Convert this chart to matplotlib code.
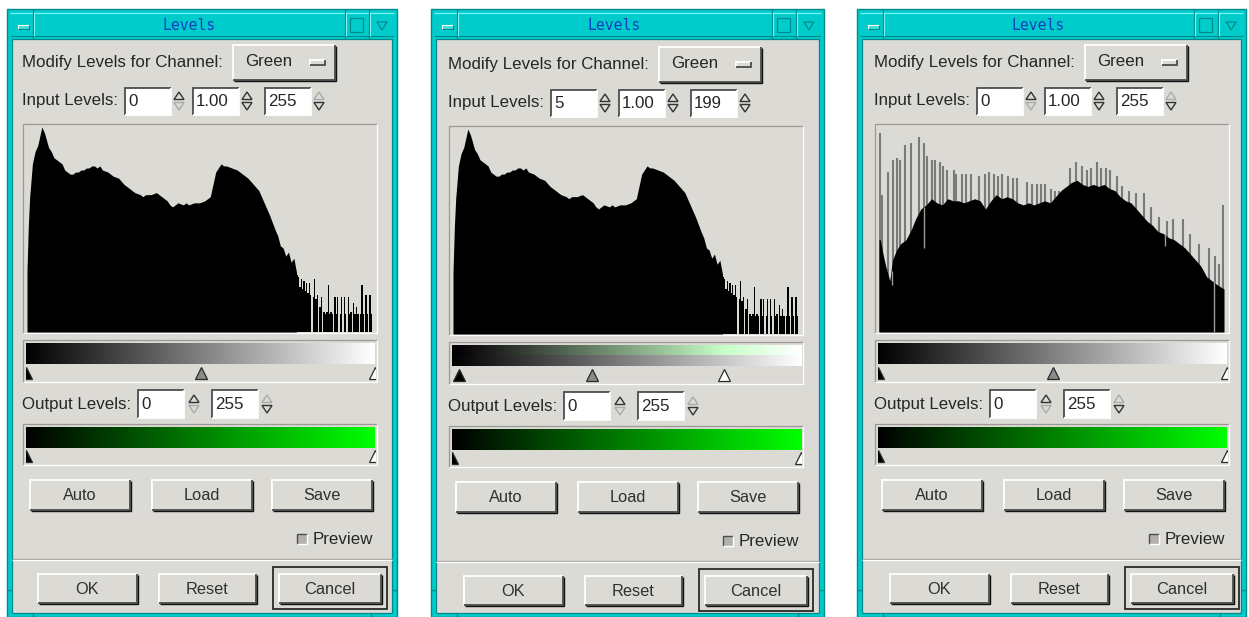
import matplotlib
matplotlib.use("Agg")
import matplotlib.pyplot as plt
from matplotlib.patches import Rectangle, Polygon
import numpy as np

W, H = 1249, 617

# dialog settings, one entry per screenshot
channel = ["Green", "Green", "Green"]
input_low = [0, 5, 0]
input_gamma = [1.00, 1.00, 1.00]
input_high = [255, 199, 255]
output_low = [0, 0, 0]
output_high = [255, 255, 255]

# histogram of the source image (dialogs 1 and 2), % of highest bin
src_levels = [0, 1, 2, 4, 6, 8, 10, 11, 13, 16, 18, 20, 22, 24, 26, 28, 30, 32, 34, 36,
              38, 40, 42, 44, 46, 48, 50, 52, 54, 56, 60, 64, 68, 72, 76, 80, 84, 86, 88,
              92, 96, 98, 100, 104, 106, 108, 112, 116, 118, 120, 124, 128, 132, 136, 138,
              140, 142, 144, 146, 148, 152, 156, 160, 164, 168, 172, 176, 180, 184, 186,
              188, 190, 192, 194, 196, 198, 200]
src_counts = [30, 52, 66, 82, 88, 91, 97, 100, 97, 90, 88, 85, 84, 83, 82, 79, 78, 77, 77, 78,
              78, 79, 79, 80, 80, 81, 81, 80, 81, 79, 78, 76, 75, 72, 70, 68, 67, 66, 67,
              67, 68, 67, 66, 64, 62, 61, 63, 62, 63, 62, 63, 63, 64, 66, 72,
              78, 80, 82, 81, 81, 80, 79, 77, 75, 72, 69, 63, 57, 50, 47,
              42, 41, 37, 39, 34, 36, 29]
# sparse highlights, one value per level from 200 to 255
src_tail_levels = list(range(200, 256))
src_tail_counts = [28, 27, 22, 26, 21, 25, 20, 24, 19, 24,
                   18, 0, 17, 26, 16, 18, 0, 12, 17, 0,
                   10, 9, 10, 23, 9, 10, 9, 0, 17, 9,
                   17, 0, 9, 17, 0, 17, 9, 0, 17, 9,
                   10, 0, 14, 9, 12, 9, 0, 9, 23, 9,
                   0, 18, 9, 0, 18, 9]

# histogram after the levels change (dialog 3)
adj_levels = [0, 1, 3, 5, 8, 10, 13, 16, 20, 24, 27, 31, 35, 39, 43, 47, 51, 55, 59, 63,
              67, 71, 75, 79, 83, 87, 91, 95, 99, 103, 107, 111, 115, 119, 123, 127, 131, 135,
              139, 143, 147, 151, 155, 159, 163, 167, 171, 175, 179, 183, 187, 191, 195, 199,
              203, 207, 211, 215, 219, 223, 227, 231, 235, 239, 243, 247, 251, 256]
adj_counts = [45, 45, 38, 32, 25, 35, 40, 43, 45, 50, 55, 60, 62, 65, 63, 62, 65, 64, 64, 63,
              64, 65, 64, 60, 64, 67, 65, 66, 65, 63, 62, 63, 62, 63, 64, 63, 66, 69,
              71, 73, 74, 72, 71, 72, 71, 72, 70, 69, 66, 64, 63, 60, 57, 54,
              52, 49, 48, 46, 45, 43, 41, 38, 35, 32, 27, 25, 23, 21]
adj_spike_levels = [0, 2, 6, 10, 13, 15, 19, 23, 29, 33, 35, 39, 41, 45, 47, 50, 55, 57, 61, 64,
                    68, 74, 78, 81, 85, 88, 91, 95, 99, 102, 109, 113, 117, 120, 123, 127, 130,
                    133, 141, 146, 150, 154, 157, 161, 164, 168, 171, 176, 180, 185, 190, 196,
                    201, 207, 213, 218, 225, 230, 237, 244, 249, 252, 255]
adj_spike_counts = [97, 67, 78, 84, 85, 84, 91, 92, 95, 92, 86, 84, 84, 83, 81, 79, 79, 77, 77, 77,
                    77, 76, 77, 78, 77, 76, 77, 76, 75, 75, 73, 72, 72, 72, 72, 70, 69,
                    69, 80, 83, 81, 79, 80, 83, 80, 80, 79, 76, 71, 69, 68, 68,
                    61, 56, 54, 55, 55, 48, 43, 41, 37, 33, 62]
adj_gap_levels = [9, 33, 212, 248]
adj_gap_lo = [23, 41, 42, 0]
adj_gap_hi = [30, 61, 48, 25]

BG = "#dcdad5"
CYAN = "#00cccc"
CYAN_DK = "#008a8a"
CYAN_LT = "#80f4f4"
TXT = "#262626"
SHADOW = "#4d4d4d"
FONT = "Liberation Sans"

panel_left = [7, 431, 857]
panel_width = [390, 393, 389]
content_dx = [0, 426, 852]
content_dy = [0, 2, 0]


def fig_rect(x, y, w, h):
    return [x / W, 1 - (y + h) / H, w / W, h / H]


def line(ax, xs, ys, color, lw=1.0, z=3):
    ax.plot(xs, ys, color=color, lw=lw, zorder=z, solid_capstyle="butt", solid_joinstyle="miter")


def bevel(ax, x, y, w, h, raised=True, fc=BG, z=2, lw=1.3, dark=SHADOW):
    ax.add_patch(Rectangle((x, y), w, h, facecolor=fc, edgecolor="none", zorder=z))
    hi, lo = ("white", dark) if raised else (dark, "white")
    line(ax, [x, x, x + w], [y + h, y, y], hi, lw, z + 0.1)
    line(ax, [x, x + w, x + w], [y + h, y + h, y], lo, lw, z + 0.1)


def label(ax, x, y, s, ha="left", size=12.2, color=TXT):
    ax.text(x, y, s, ha=ha, va="center", fontsize=size, family=FONT, color=color, zorder=5)


def button(ax, x, y, w, h, s):
    bevel(ax, x, y, w, h)
    line(ax, [x + 1, x + w + 1, x + w + 1], [y + h + 1, y + h + 1, y + 1], "#111111", 1.0, 2.2)
    label(ax, x + w / 2, y + h / 2 + 0.5, s, ha="center", size=11.8, color="#303030")


def entry(ax, x, y, w, h, s):
    bevel(ax, x, y, w, h, raised=False, fc="white")
    label(ax, x + 3, y + h / 2 + 0.5, s)


def spinner(ax, cx, cy, up_on, down_on):
    for sign, on in ((-1, up_on), (1, down_on)):
        base, tip = cy + sign * 1.5, cy + sign * 9
        pts = [(cx - 5, base), (cx + 5, base), (cx, tip)]
        ax.add_patch(Polygon(pts, closed=True, facecolor=BG,
                             edgecolor="#333333" if on else "#ababab", lw=1.0, zorder=4))


def level_bar(fig, x, y, w, h, rgb, marks):
    # gradient strip plus slider handles, on a 0..255 level scale
    sax = fig.add_axes(fig_rect(x, y, w, h))
    sax.imshow(rgb, extent=(0, 255, 0.43, 1.0), aspect="auto", interpolation="nearest")
    for lv, fc in marks:
        sax.plot([lv], [0.2], marker="^", ms=9, mfc=fc, mec="#2a2a2a", mew=0.9, clip_on=True)
    sax.set_xlim(0, 255)
    sax.set_ylim(0, 1)
    sax.axis("off")


def draw_window(ax, i):
    x0, pw = panel_left[i], panel_width[i]
    # cyan border and title bar
    ax.add_patch(Rectangle((x0, 9), pw, 608, facecolor=CYAN, edgecolor=CYAN_DK, lw=1.0, zorder=1))
    ax.add_patch(Rectangle((x0 + 5, 39), pw - 10, 574, facecolor=BG, edgecolor=CYAN_DK, lw=0.9, zorder=1.5))
    line(ax, [x0 + 3, x0 + pw - 3], [12.5, 12.5], CYAN_LT, 0.8, 1.2)
    line(ax, [x0 + 3, x0 + pw - 3], [36, 36], CYAN_DK, 0.8, 1.2)
    for sx in (x0 + 26, x0 + pw - 52, x0 + pw - 28):
        line(ax, [sx, sx], [9, 39], CYAN_DK, 0.9, 1.3)
        line(ax, [sx + 1.3, sx + 1.3], [12, 36], CYAN_LT, 0.8, 1.3)
    line(ax, [x0, x0 + 5], [590, 590], CYAN_DK, 0.9, 1.3)
    line(ax, [x0 + pw - 5, x0 + pw], [590, 590], CYAN_DK, 0.9, 1.3)
    for xx in (x0 + 26, x0 + pw - 26):
        line(ax, [xx, xx], [613, 617], CYAN_DK, 0.9, 1.3)
    # title bar widgets
    bevel(ax, x0 + 11, 25, 11, 4, fc="#40dede", z=1.4, lw=0.8, dark=CYAN_DK)
    ax.add_patch(Rectangle((x0 + pw - 47, 18), 13, 14, facecolor="none", edgecolor=CYAN_DK, lw=0.9, zorder=1.4))
    ax.add_patch(Polygon([(x0 + pw - 20, 22), (x0 + pw - 10, 22), (x0 + pw - 15, 30)], closed=True,
                         facecolor="none", edgecolor=CYAN_DK, lw=0.9, zorder=1.4))
    ax.text(x0 + pw / 2 - 13, 25, "Levels", ha="center", va="center", fontsize=10.6,
            family="DejaVu Sans Mono", color="#1040c0", zorder=5)


def draw_controls(fig, ax, i):
    dx, dy = content_dx[i], content_dy[i]
    x0, pw = panel_left[i], panel_width[i]
    label(ax, 22 + dx, 62 + dy, "Modify Levels for Channel:")
    bevel(ax, 233 + dx, 45 + dy, 102, 35)
    line(ax, [234 + dx, 336 + dx, 336 + dx], [81 + dy, 81 + dy, 46 + dy], "#111111", 1.0, 2.2)
    label(ax, 269 + dx, 62 + dy, channel[i], ha="center")
    bevel(ax, 310 + dx, 60 + dy, 15, 5, z=3)

    # input levels row
    label(ax, 22 + dx, 101 + dy, "Input Levels:")
    lo, gm, hi = input_low[i], input_gamma[i], input_high[i]
    fields = [(125, str(lo), lo < 255, lo > 0), (193, f"{gm:.2f}", gm < 10, gm > 0.1),
              (265, str(hi), hi < 255, hi > 0)]
    for fx, s, up_on, down_on in fields:
        entry(ax, fx + dx, 88 + dy, 46, 27, s)
        spinner(ax, fx + 54 + dx, 101 + dy, up_on, down_on)

    # histogram frame and plot
    bevel(ax, 23 + dx, 124 + dy, 354, 209, raised=False, lw=0.9, dark="#9c9a95")
    hax = fig.add_axes(fig_rect(27 + dx, 127 + dy, 345, 205))
    if i < 2:
        hax.fill_between(src_levels, src_counts, color="black", lw=0, zorder=1)
        hax.bar(src_tail_levels, src_tail_counts, width=1.0, align="edge", color="black", lw=0, zorder=2)
    else:
        hax.vlines(np.array(adj_spike_levels) + 0.5, 0, adj_spike_counts, color="#7a7a7a", lw=1.5, zorder=1)
        hax.fill_between(adj_levels, adj_counts, color="black", lw=0, zorder=2)
        hax.vlines(np.array(adj_gap_levels) + 0.5, adj_gap_lo, adj_gap_hi, color="#9a9a9a", lw=1.0, zorder=3)
    hax.set_xlim(0, 256)
    hax.set_ylim(0, 100)
    hax.axis("off")

    # input gradient: top half shows the channel through the levels mapping
    ramp = np.arange(256, dtype=float)
    mapped = np.clip((ramp - lo) / (hi - lo), 0, 1) ** (1 / gm) * 255
    top = np.stack([ramp, mapped, ramp], axis=-1)
    bottom = np.stack([ramp, ramp, ramp], axis=-1)
    bevel(ax, 23 + dx, 340 + dy, 354, 42, raised=False, lw=0.9, dark="#9c9a95")
    mid = lo + (hi - lo) * 0.5 ** gm
    level_bar(fig, 26 + dx, 343 + dy, 349, 37, np.stack([top, bottom]) / 255,
              [(lo, "black"), (mid, "#8a8a8a"), (hi, "white")])

    # output levels row
    label(ax, 22 + dx, 405 + dy, "Output Levels:")
    olo, ohi = output_low[i], output_high[i]
    entry(ax, 138 + dx, 390 + dy, 46, 28, str(olo))
    spinner(ax, 194 + dx, 404 + dy, olo < 255, olo > 0)
    entry(ax, 212 + dx, 390 + dy, 46, 28, str(ohi))
    spinner(ax, 267 + dx, 404 + dy, ohi < 255, ohi > 0)

    green = np.stack([ramp * 0, ramp, ramp * 0], axis=-1)
    bevel(ax, 23 + dx, 424 + dy, 354, 41, raised=False, lw=0.9, dark="#9c9a95")
    level_bar(fig, 26 + dx, 427 + dy, 349, 36, np.stack([green, green]) / 255,
              [(olo, "black"), (ohi, "white")])

    # buttons
    for bx, s in ((30, "Auto"), (152, "Load"), (272, "Save")):
        button(ax, bx + dx, 480 + dy, 100, 30, s)
    bevel(ax, 297 + dx, 534 + dy, 10, 10, raised=False, fc="#b3b1ac", lw=1.0)
    label(ax, 313 + dx, 539 + dy, "Preview")

    line(ax, [x0 + 5, x0 + pw - 5], [559 + dy, 559 + dy], "#a09e99", 0.9, 2)
    line(ax, [x0 + 5, x0 + pw - 5], [560.3 + dy, 560.3 + dy], "white", 0.9, 2)

    button(ax, 38 + dx, 574 + dy, 99, 29, "OK")
    button(ax, 159 + dx, 574 + dy, 97, 29, "Reset")
    ax.add_patch(Rectangle((273 + dx, 567 + dy), 114, 42, facecolor="none",
                           edgecolor="#1a1a1a", lw=1.2, zorder=2))
    button(ax, 279 + dx, 574 + dy, 102, 29, "Cancel")


fig = plt.figure(figsize=(W / 100, H / 100), dpi=100)
ax = fig.add_axes([0, 0, 1, 1])
ax.set_xlim(0, W)
ax.set_ylim(H, 0)
ax.axis("off")

for i in range(3):
    draw_window(ax, i)
    draw_controls(fig, ax, i)

fig.savefig("out.png", dpi=100, facecolor="white")
